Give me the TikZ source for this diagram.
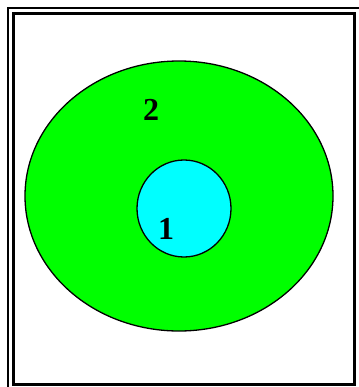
\documentclass[tikz,border=0pt]{standalone}
\usepackage{fontspec}
\setmainfont{Liberation Serif}
\usetikzlibrary{shapes.geometric}
\definecolor{pureaqua}{RGB}{0,255,255}
\definecolor{puregreen}{RGB}{0,255,0}
\tikzset{
  frame/.style={draw=black, line width=2.8pt},
  region/.style={draw=black, line width=1.3pt, ellipse, inner sep=0pt},
  lbl/.style={font=\fontsize{32}{32}\selectfont\bfseries, inner sep=0pt}
}
\begin{document}
\begin{tikzpicture}[x=1pt,y=-1pt]
\useasboundingbox[fill=white] (0,0) rectangle (358,387);
\draw[frame] (8,8) rectangle (366,395);
\draw[frame] (13.5,13.5) rectangle (354.5,384.5);
\node[region, fill=puregreen, minimum width=308pt, minimum height=270pt] (outer) at (179,196) {};
\node[region, fill=pureaqua, minimum width=94pt, minimum height=97pt] (inner) at (184,208.5) {};
\node[lbl] (two) at (151,110) {2};
\node[lbl] (one) at (166,229) {1};
\end{tikzpicture}
\end{document}
